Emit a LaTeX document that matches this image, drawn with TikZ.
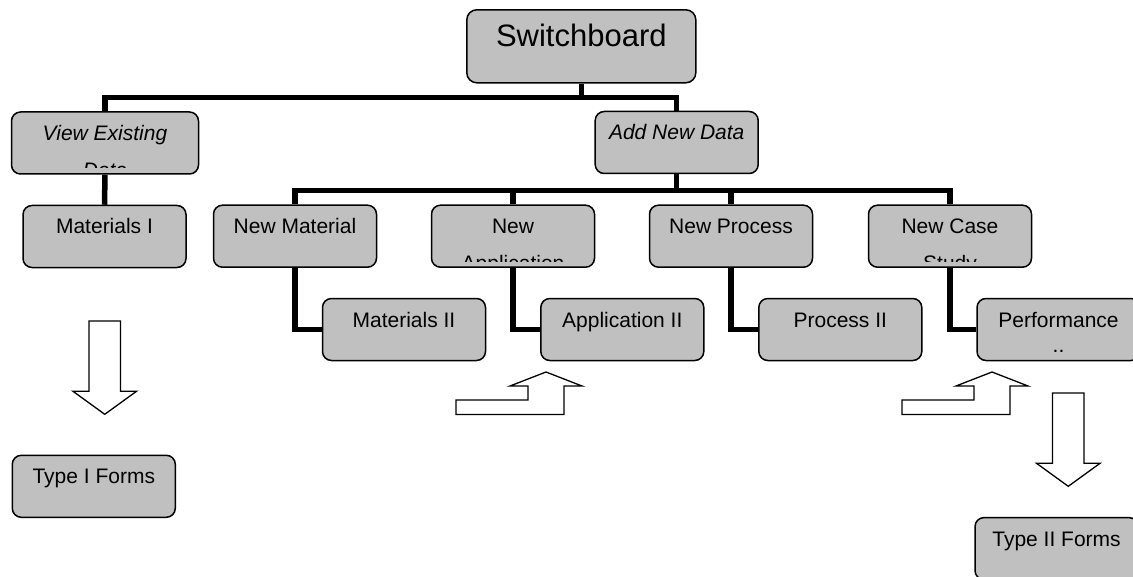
\documentclass[tikz,border=0pt]{standalone}
\usepackage{fontspec}
\setmainfont{Liberation Sans}
\usetikzlibrary{positioning,calc}
\definecolor{boxgray}{HTML}{C0C0C0}

\tikzset{
  box/.style={draw, line width=0.75pt, rounded corners=4.5pt, fill=boxgray,
    minimum width=81.5pt, minimum height=31pt, inner sep=0pt},
  txt/.style={draw=none, fill=none, inner sep=0pt, minimum width=0pt, minimum height=0pt,
    anchor=base, font=\fontsize{10.5pt}{12pt}\selectfont},
  linegap/.initial=37,
  boxlines/.style 2 args={path picture={
      \clip ([yshift=3pt]path picture bounding box.south west)
        rectangle (path picture bounding box.north east);
      \node[txt] at ($(path picture bounding box.north)+(0,28.5)$) {#1};
      \node[txt] at ($(path picture bounding box.north)+(0,28.5+\pgfkeysvalueof{/tikz/linegap})$) {#2};}},
  conn/.style={line width=2.75pt},
  hollow/.style={draw, line width=0.65pt, fill=white},
}

\begin{document}
\begin{tikzpicture}[x=0.5pt, y=-0.5pt]
        \useasboundingbox (0,0) rectangle (1133,577);
        % top level
        \node[box, minimum width=114.5pt, minimum height=36.5pt, rounded corners=5pt,
          text height=18.35pt, text depth=18pt, font=\fontsize{15.5pt}{18pt}\selectfont]
          (sw) at (581.3,46.3) {Switchboard};
        \node[box, minimum width=93.5pt, boxlines={\itshape View Existing}{\itshape Data}] (view) at (105,143) {};
        \node[box, boxlines={\itshape Add New Data}{}] (add) at (676.7,142.5) {};
        \node[box, boxlines={Materials I}{}] (mat1) at (104.5,236.5) {};
        % add new data branch
        \foreach \n/\x/\a/\b in {newmat/295/New Material/, newapp/513/New/Application,
            newproc/731/New Process/, newcase/950/New Case/Study} {
          \node[box, boxlines={\a}{\b}] (\n) at (\x,236.2) {};
        };
        \foreach \n/\x/\a/\b/\g in {mat2/404/Materials II//37, app2/622.3/Application II//37,
            proc2/840.3/Process II//37, perf/1058.5/Performance/../25.5} {
          \node[box, linegap=\g, boxlines={\a}{\b}] (\n) at (\x,329.5) {};
        };
        \node[box, boxlines={Type I Forms}{}] (type1) at (93.8,486.3) {};
        \node[box, boxlines={Type II Forms}{}] (type2) at (1056.5,548.6) {};

        % connectors
        \coordinate (bus1) at ($(sw.south)+(0,14)$);
        \coordinate (bus2) at ($(add.south)+(0,16.5)$);
        \draw[conn] (sw.south) -- (bus1);
        \draw[conn] (view.north) |- (bus1) -| (add.north);
        \draw[conn] (view.south) -- (mat1.north);
        \draw[conn] (add.south) -- (bus2);
        \draw[conn] (newmat.north) |- (bus2) -| (newcase.north);
        \foreach \n in {newapp, newproc} {
          \draw[conn] (\n.north) -- (\n.north |- bus2);
        };
        \foreach \p/\c in {newmat/mat2, newapp/app2, newproc/proc2, newcase/perf} {
          \draw[conn] (\p.south) |- (\c.west);
        };

        % hollow arrows
        \foreach \x/\y in {89/321, 1052.5/393} {
          \draw[hollow] (\x,\y) -- ++(31.5,0) -- ++(0,70.3) -- ++(16,0) -- ++(-31.75,23)
            -- ++(-31.75,-23) -- ++(16,0) -- cycle;
        };
        \foreach \x/\y in {456/400, 902/400} {
          \draw[hollow] (\x,\y) -- ++(72,0) -- ++(0,-14) -- ++(-18,0) -- ++(36,-14)
            -- ++(36,14) -- ++(-18,0) -- ++(0,28.5) -- ++(-108,0) -- cycle;
        };
      \end{tikzpicture}
\end{document}
